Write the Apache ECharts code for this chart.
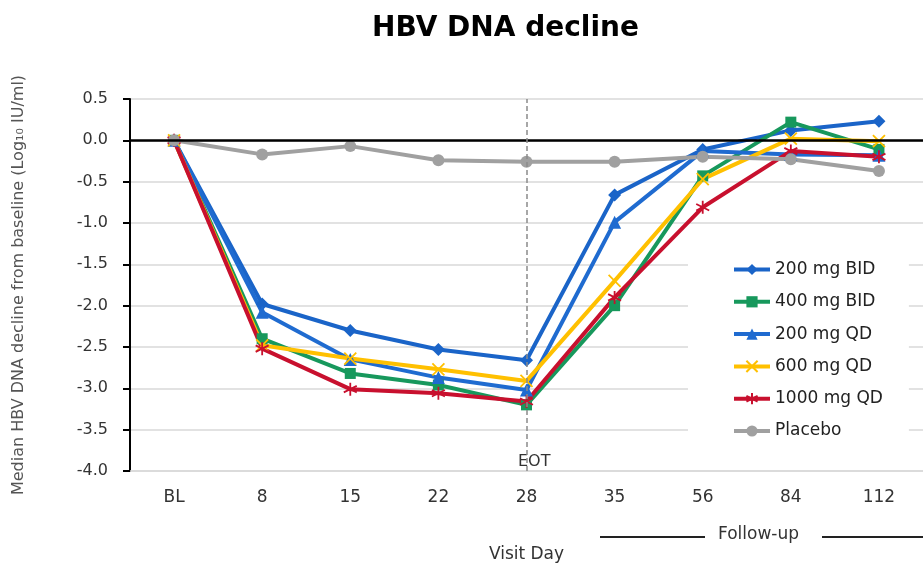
<!DOCTYPE html>
<html>
<head>
<meta charset="utf-8">
<script src="https://cdn.jsdelivr.net/npm/echarts@6/dist/echarts.min.js"></script>
<style>
    html, body { margin: 0; padding: 0; background: #fff; }
    #grafico { width: 923px; height: 568px; }
</style>
</head>
<body>
<div id="grafico"></div>
<script>
// dados
var dias = ["BL", "8", "15", "22", "28", "35", "56", "84", "112"];

var bid200 = [0, -1.98, -2.30, -2.53, -2.66, -0.66, -0.11, 0.12, 0.23];
var bid400 = [0, -2.40, -2.82, -2.96, -3.20, -2.00, -0.43, 0.22, -0.11];
var qd200 = [0, -2.08, -2.65, -2.87, -3.02, -0.99, -0.13, -0.17, -0.18];
var qd600 = [0, -2.48, -2.64, -2.77, -2.91, -1.70, -0.47, 0.02, -0.01];
var qd1000 = [0, -2.52, -3.01, -3.06, -3.16, -1.90, -0.81, -0.13, -0.20];
var placebo = [0, -0.17, -0.07, -0.24, -0.26, -0.26, -0.20, -0.23, -0.37];

var fonte = "DejaVu Sans";

var simboloX = "path://M0,0L10,10M10,0L0,10";
var simboloAsterisco = "path://M5,0L5,10M0.7,2.5L9.3,7.5M9.3,2.5L0.7,7.5";

function serie(nome, dados, cor, simbolo, tamanho, extra) {
    let s = {
        name: nome,
        type: "line",
        data: dados,
        symbol: simbolo,
        symbolSize: tamanho,
        lineStyle: { color: cor, width: 4 },
        itemStyle: { color: cor },
        emphasis: { disabled: true }
    };
    if (extra) {
        s.itemStyle.borderColor = cor;
        s.itemStyle.borderWidth = 1.8;
    }
    return s;
}

var series = [
    serie("200 mg BID", bid200, "#1a64c8", "diamond", 13),
    serie("400 mg BID", bid400, "#17985c", "rect", 11),
    serie("200 mg QD", qd200, "#1f6bd0", "triangle", 13),
    serie("600 mg QD", qd600, "#ffc000", simboloX, 12, true),
    serie("1000 mg QD", qd1000, "#c8102e", simboloAsterisco, 13, true),
    serie("Placebo", placebo, "#a0a0a0", "circle", 12)
];

// linha do zero e linha EOT
series[0].markLine = {
    silent: true,
    symbol: "none",
    animation: false,
    label: { show: false },
    data: [
        { yAxis: 0, lineStyle: { color: "#000", width: 2.5, type: "solid" } },
        { xAxis: "28", lineStyle: { color: "#8a8a8a", width: 1.5, type: [5, 3] } }
    ]
};

var myChart = echarts.init(document.getElementById("grafico"));

var option = {
    animation: false,
    backgroundColor: "#fff",
    title: {
        text: "HBV DNA decline",
        left: 372,
        top: 15,
        padding: 0,
        textStyle: { fontFamily: fonte, fontWeight: "bold", fontSize: 28, color: "#000" }
    },
    legend: {
        orient: "vertical",
        left: 688,
        top: 243,
        padding: [18, 26, 18, 44],
        backgroundColor: "#fff",
        itemWidth: 36,
        itemHeight: 14,
        itemGap: 15.3,
        lineStyle: { width: 4 },
        textStyle: { fontFamily: fonte, fontSize: 17, color: "#222" },
        data: ["200 mg BID", "400 mg BID", "200 mg QD", "600 mg QD", "1000 mg QD", "Placebo"]
    },
    grid: { left: 130, top: 99, width: 811, height: 376 },
    xAxis: {
        type: "category",
        data: dias,
        boundaryGap: true,
        name: "Visit Day",
        nameLocation: "middle",
        nameGap: 75,
        nameTextStyle: { fontFamily: fonte, fontSize: 17, color: "#333" },
        axisLine: { onZero: false, lineStyle: { color: "#d9d9d9", width: 1.5 } },
        axisTick: { show: false },
        axisLabel: { fontFamily: fonte, fontSize: 17, color: "#333", margin: 18 }
    },
    yAxis: {
        type: "value",
        min: -4,
        max: 0.5,
        interval: 0.5,
        name: "Median HBV DNA decline from baseline (Log\u2081\u2080 IU/ml)",
        nameLocation: "middle",
        nameGap: 103,
        nameTextStyle: { fontFamily: fonte, fontSize: 16, color: "#555" },
        axisLine: { show: true, lineStyle: { color: "#000", width: 2 } },
        axisTick: { show: true, length: 7, lineStyle: { color: "#000", width: 2 } },
        axisLabel: {
            fontFamily: fonte,
            fontSize: 16,
            color: "#333",
            margin: 22,
            formatter: v => v.toFixed(1)
        },
        splitLine: { lineStyle: { color: "#d9d9d9", width: 1.5 } }
    },
    graphic: [
        {
            type: "text",
            left: 518,
            top: 454,
            style: { text: "EOT", fontFamily: fonte, fontSize: 16, fill: "#333" }
        },
        {
            type: "line",
            shape: { x1: 600, y1: 537, x2: 705, y2: 537 },
            style: { stroke: "#222", lineWidth: 2 }
        },
        {
            type: "text",
            left: 718,
            top: 526,
            style: { text: "Follow-up", fontFamily: fonte, fontSize: 17, fill: "#333" }
        },
        {
            type: "line",
            shape: { x1: 822, y1: 537, x2: 923, y2: 537 },
            style: { stroke: "#222", lineWidth: 2 }
        }
    ],
    series: series
};

myChart.setOption(option);
</script>
</body>
</html>
